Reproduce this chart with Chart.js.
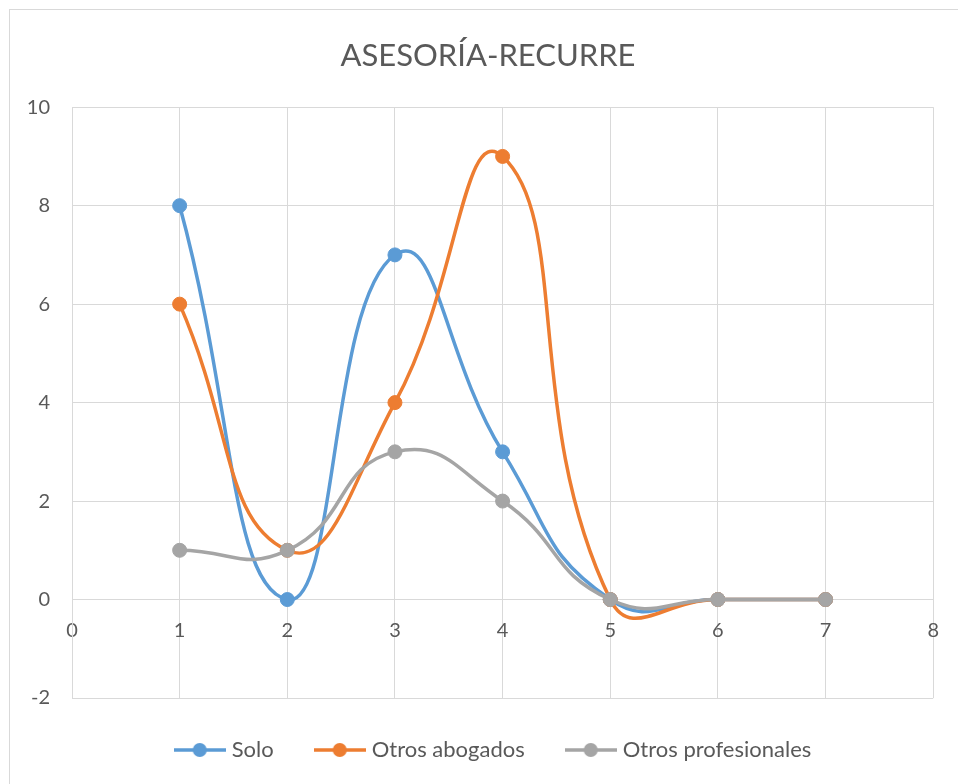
<!DOCTYPE html>
<html>
<head>
<meta charset="utf-8">
<script src="https://cdn.jsdelivr.net/npm/chart.js@4.4.1/dist/chart.umd.min.js"></script>
<style>
  html, body { margin: 0; padding: 0; background: #ffffff; }
  #wrap { position: relative; width: 958px; height: 784px; overflow: hidden; }
  #frame { position: absolute; left: 9px; top: 9px; width: 1000px; height: 1000px; border: 1px solid #D9D9D9; box-sizing: border-box; }
  #c { position: absolute; left: 0; top: 0; }
</style>
</head>
<body>
<div id="wrap">
  <div id="frame"></div>
  <canvas id="c" width="958" height="784"></canvas>
</div>
<script>
const chartTitle = "ASESORÍA-RECURRE";
const xValues = [1, 2, 3, 4, 5, 6, 7];
const seriesNames = ["Solo", "Otros abogados", "Otros profesionales"];
const solo = [8, 0, 7, 3, 0, 0, 0];
const otrosAbogados = [6, 1, 4, 9, 0, 0, 0];
const otrosProfesionales = [1, 1, 3, 2, 0, 0, 0];
const seriesColors = ["#5B9BD5", "#ED7D31", "#A5A5A5"];
const xMin = 0, xMax = 8, xStep = 1;
const yMin = -2, yMax = 10, yStep = 2;

const FONT = "Lato, 'Open Sans', sans-serif";
const TEXT = "#595959";
const GRID = "#D9D9D9";

function toPoints(vals) { return xValues.map((x, i) => ({ x: x, y: vals[i] })); }

function legendIcon(color) {
  const cv = document.createElement("canvas");
  cv.width = 52; cv.height = 16;
  const g = cv.getContext("2d");
  g.strokeStyle = color; g.lineWidth = 3.5; g.lineCap = "butt";
  g.beginPath(); g.moveTo(0, 8); g.lineTo(52, 8); g.stroke();
  g.fillStyle = color;
  g.beginPath(); g.arc(26, 8, 7, 0, Math.PI * 2); g.fill();
  return cv;
}

const allValues = [solo, otrosAbogados, otrosProfesionales];
const datasets = allValues.map((vals, i) => ({
  label: seriesNames[i],
  data: toPoints(vals),
  borderColor: seriesColors[i],
  backgroundColor: seriesColors[i],
  pointBackgroundColor: seriesColors[i],
  pointBorderColor: seriesColors[i],
  borderWidth: 3.5,
  pointRadius: 7,
  pointBorderWidth: 1,
  tension: 0.5,
  fill: false,
  order: 3 - i
}));

// The original chart frame is wider than the visible crop: title and legend
// are centred on that wider frame, so nudge them right after layout.
const shiftBoxes = {
  id: "shiftBoxes",
  afterLayout(chart) {
    const t = chart.titleBlock;
    if (t) { t.left += 20.5; t.right += 20.5; }
    const l = chart.legend;
    if (l) { l.left += 27.5; l.right += 27.5; l.top -= 4; l.bottom -= 4; }
  }
};

new Chart(document.getElementById("c"), {
  type: "line",
  data: { datasets: datasets },
  plugins: [shiftBoxes],
  options: {
    responsive: false,
    animation: false,
    devicePixelRatio: 1,
    layout: { padding: { left: 0, right: 23, top: 0, bottom: 9 } },
    plugins: {
      tooltip: { enabled: false },
      title: {
        display: true,
        text: chartTitle,
        color: TEXT,
        font: { family: FONT, size: 31, weight: "normal", lineHeight: 1.2 },
        padding: { top: 37, bottom: 33 }
      },
      legend: {
        display: true,
        position: "bottom",
        labels: {
          color: TEXT,
          font: { family: FONT, size: 22 },
          usePointStyle: true,
          pointStyleWidth: 42,
          padding: 45,
          generateLabels: function (chart) {
            return seriesNames.map((n, i) => ({
              text: n,
              fillStyle: seriesColors[i],
              strokeStyle: seriesColors[i],
              lineWidth: 0,
              pointStyle: legendIcon(seriesColors[i]),
              hidden: false,
              datasetIndex: i,
              fontColor: TEXT
            }));
          }
        }
      }
    },
    scales: {
      x: {
        type: "linear",
        position: { y: 0 },
        min: xMin, max: xMax,
        ticks: { stepSize: xStep, color: TEXT, font: { family: FONT, size: 20 }, padding: 19 },
        grid: { color: GRID, lineWidth: 1, drawTicks: false },
        border: { color: GRID, width: 1 }
      },
      y: {
        type: "linear",
        position: "left",
        min: yMin, max: yMax,
        ticks: { stepSize: yStep, color: TEXT, font: { family: FONT, size: 20 }, padding: 22 },
        grid: { color: GRID, lineWidth: 1, drawTicks: false },
        border: { color: GRID, width: 1 },
        afterFit: function (scale) { scale.width = 72; }
      }
    }
  }
});
</script>
</body>
</html>
